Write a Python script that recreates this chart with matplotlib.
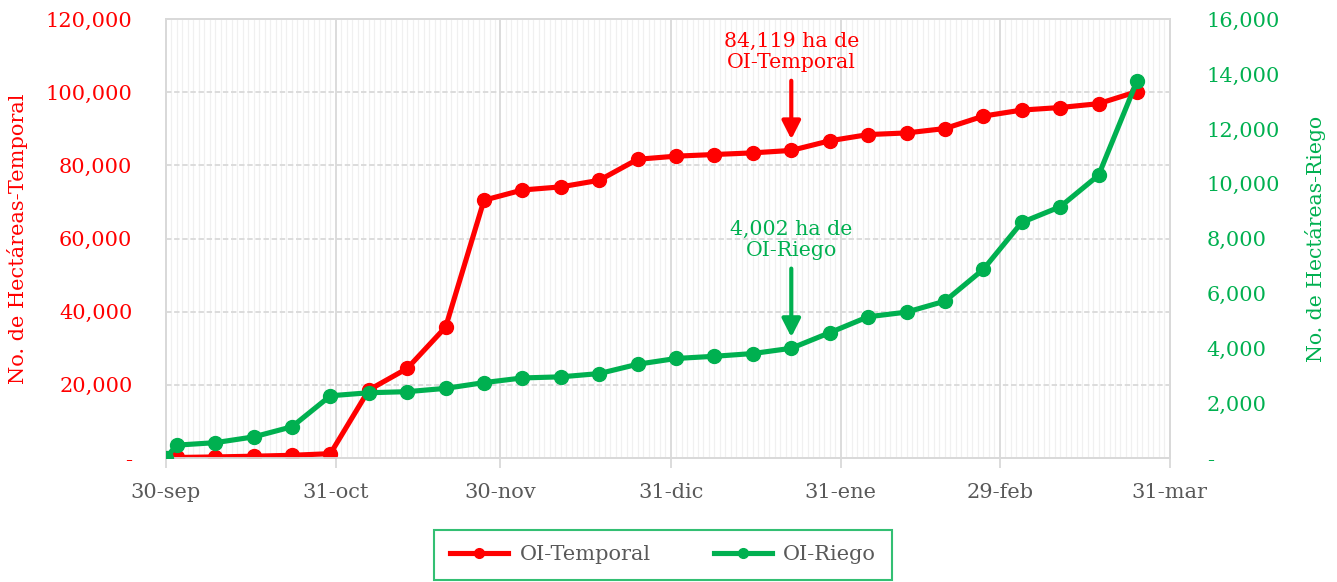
import matplotlib
matplotlib.use("Agg")
import matplotlib.pyplot as plt
import matplotlib.dates as mdates
import matplotlib.ticker as mticker
import numpy as np
from datetime import date, timedelta

plt.rcParams['font.family'] = ['DejaVu Serif']

RED = '#FF0000'
GREEN = '#00B050'
GREY = '#595959'

# semanas: 30-sep (inicio) y luego cada 7 dias desde el 2-oct
fechas = [date(2023, 9, 30)] + [date(2023, 10, 2) + timedelta(days=7 * i) for i in range(26)]

temporal = [0, 150, 300, 500, 750, 1200, 18600, 24500, 35800, 70500, 73300,
            74150, 75950, 81700, 82550, 83000, 83450, 84119, 86750, 88450,
            88900, 90100, 93500, 95150, 95850, 96900, 100200]
riego = [0, 470, 560, 770, 1140, 2270, 2380, 2420, 2540, 2750, 2920,
         2960, 3080, 3420, 3630, 3710, 3810, 4002, 4570, 5150, 5320,
         5720, 6880, 8590, 9160, 10310, 13740]

xticks = [date(2023, 9, 30), date(2023, 10, 31), date(2023, 11, 30), date(2023, 12, 31),
          date(2024, 1, 31), date(2024, 2, 29), date(2024, 3, 31)]
xlabels = ['30-sep', '31-oct', '30-nov', '31-dic', '31-ene', '29-feb', '31-mar']

idx_nota = 17  # semana marcada con flecha


def fmt(v, pos):
    if v == 0:
        return '-'
    return f'{v:,.0f}'


fig = plt.figure(figsize=(13.37, 5.82), dpi=100)
ax = fig.add_axes([0.124, 0.213, 0.751, 0.754])
ax2 = ax.twinx()

ax.set_xlim(xticks[0], xticks[-1])
ax.set_ylim(0, 120000)
ax2.set_ylim(0, 16000)

ax.set_xticks(xticks)
ax.set_xticklabels(xlabels)
ax.xaxis.set_minor_locator(mdates.DayLocator())
ax.yaxis.set_major_locator(mticker.MultipleLocator(20000))
ax2.yaxis.set_major_locator(mticker.MultipleLocator(2000))
ax.yaxis.set_major_formatter(mticker.FuncFormatter(fmt))
ax2.yaxis.set_major_formatter(mticker.FuncFormatter(fmt))

ax.grid(which='minor', axis='x', color='#F0F0F0', lw=0.9)
ax.grid(which='major', axis='x', color='#D9D9D9', lw=1.3)
ax.grid(which='major', axis='y', color='#D9D9D9', lw=1.3, ls=(0, (3, 1.5)))
ax.set_axisbelow(True)

for a in (ax, ax2):
    for s in a.spines.values():
        s.set_color('#D9D9D9')
        s.set_linewidth(1.3)

ax.tick_params(axis='x', which='major', colors='#D9D9D9', length=7, width=1.3,
               labelcolor=GREY, labelsize=15, pad=11)
ax.tick_params(axis='x', which='minor', length=0)
ax.tick_params(axis='y', length=0, labelcolor=RED, labelsize=15, pad=24)
ax2.tick_params(axis='y', length=0, labelcolor=GREEN, labelsize=15, pad=26.5)

ax.set_ylabel('No. de Hectáreas-Temporal', color=RED, fontsize=15)
ax2.set_ylabel('No. de Hectáreas-Riego', color=GREEN, fontsize=14.7)
ax.yaxis.set_label_coords(-0.1375, 0.5)
ax2.yaxis.set_label_coords(1.1345, 0.5)

l1, = ax.plot(fechas, temporal, color=RED, lw=3.7, marker='o', ms=10, label='OI-Temporal', zorder=3)
l2, = ax2.plot(fechas, riego, color=GREEN, lw=3.7, marker='o', ms=10, label='OI-Riego', zorder=3)

ax.annotate(f'{temporal[idx_nota]:,} ha de\nOI-Temporal', xy=(fechas[idx_nota], temporal[idx_nota]),
            xytext=(0, 78), textcoords='offset pixels', ha='center', va='bottom',
            color=RED, fontsize=14.8, linespacing=1.15,
            arrowprops=dict(arrowstyle='-|>,head_width=0.28,head_length=0.55', mutation_scale=20,
                            color=RED, lw=3, shrinkA=4, shrinkB=8))
ax2.annotate(f'{riego[idx_nota]:,} ha de\nOI-Riego', xy=(fechas[idx_nota], riego[idx_nota]),
             xytext=(0, 88), textcoords='offset pixels', ha='center', va='bottom',
             color=GREEN, fontsize=14.8, linespacing=1.15,
             arrowprops=dict(arrowstyle='-|>,head_width=0.28,head_length=0.55', mutation_scale=20,
                             color=GREEN, lw=3, shrinkA=4, shrinkB=8))

leg = fig.legend(handles=[l1, l2], loc='center', bbox_to_anchor=(0.496, 0.047), ncol=2,
                 fontsize=15, frameon=True, fancybox=False, handlelength=2.8,
                 columnspacing=3.0, borderpad=0.75, handletextpad=0.55, borderaxespad=0)
leg.get_frame().set_edgecolor(GREEN)
leg.get_frame().set_linewidth(1.5)
for t in leg.get_texts():
    t.set_color(GREY)
for h in leg.legend_handles:
    h.set_markersize(7)

fig.savefig('out.png', dpi=100)
